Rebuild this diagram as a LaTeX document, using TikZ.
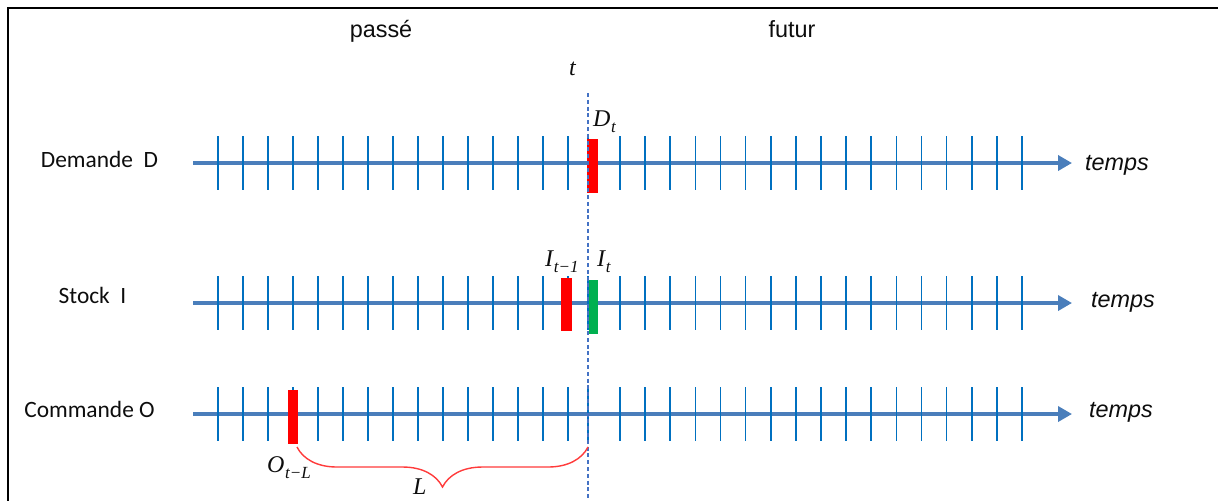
\documentclass[tikz,border=0pt]{standalone}
\usepackage{fontspec}
\setmainfont{Liberation Sans}
\newfontfamily\rowfont{Carlito}
\newfontfamily\varfont{Liberation Serif}
\usetikzlibrary{arrows.meta,decorations.pathreplacing}
\definecolor{TimeAxis}{HTML}{4A7EBB}
\definecolor{TimeTick}{HTML}{0070C0}
\definecolor{TimeMark}{HTML}{FF0000}
\definecolor{TimeBrace}{HTML}{FF3B3B}
\definecolor{TimeStock}{HTML}{00B050}
\definecolor{TimeNow}{HTML}{4472C4}
\definecolor{TimeInk}{gray}{0.05}
\newcommand{\varsub}[2]{#1\kern0.4pt\raisebox{-0.55ex}{\fontsize{8.5}{9}\selectfont #2}}
\tikzset{
    chrono/diagram/.style={
        x=0.5pt, y=-0.5pt,
        font=\fontsize{11.7}{14}\selectfont,
        text=TimeInk,
        line cap=butt,
        every node/.style={inner sep=0pt, outer sep=0pt}
    },
    chrono/frame/.style={draw=black, line width=1pt},
    chrono/axis/.style={
        draw=TimeAxis, line width=2.2pt,
        -{Triangle[length=7pt, width=7.5pt]}
    },
    chrono/tick/.style={draw=TimeTick, line width=0.8pt},
    chrono/now/.style={
        draw=TimeNow, line width=0.55pt,
        dash pattern=on 2pt off 1.4pt
    },
    chrono/bar/.style={
        draw=none, minimum width=5.5pt, minimum height=27pt, inner sep=0pt
    },
    chrono/brace/.style={
        draw=TimeBrace, line width=0.7pt,
        decorate, decoration={brace, amplitude=20pt}
    },
    chrono/row/.style={font=\rowfont\fontsize{11.7}{14}\selectfont, anchor=base},
    chrono/time/.style={font=\fontsize{11.7}{14}\selectfont\itshape, anchor=base west},
    chrono/var/.style={font=\varfont\fontsize{12}{14}\selectfont\itshape, anchor=base west}
}

\begin{document}
\begin{tikzpicture}[chrono/diagram]
    \useasboundingbox (0,0) rectangle (1218,500);
    \clip (0,0) rectangle (1218,500);
    \draw[chrono/frame] (1230,8) -- (8,8) -- (8,510);
    \node[anchor=base] (Past) at (381,37) {passé};
    \node[anchor=base] (Future) at (792,37) {futur};
    \node[chrono/var] (Now) at (569,75) {t};
    \node[chrono/row] (Demand) at (99.5,167) {Demande\ \ D};
    \node[chrono/row] (Stock) at (92.5,303) {Stock\ \ I};
    \node[chrono/row] (Order) at (89.5,417) {Commande O};
    \coordinate (Dstart) at (193,163);
    \coordinate (Dend) at (1072,163);
    \coordinate (Sstart) at (193,303);
    \coordinate (Send) at (1072,303);
    \coordinate (Ostart) at (193,414);
    \coordinate (Oend) at (1072,414);
    \draw[chrono/axis] (Dstart) -- (Dend);
    \draw[chrono/axis] (Sstart) -- (Send);
    \draw[chrono/axis] (Ostart) -- (Oend);
    \foreach \y in {163,303,414} {
        \foreach \k in {0,...,14}
            \draw[chrono/tick] ({218+25*\k},{\y-27}) -- ({218+25*\k},{\y+27});
        \draw[chrono/tick] (588,{\y-27}) -- (588,{\y+27});
        \foreach \k in {0,...,16}
            \draw[chrono/tick] ({620+25.125*\k},{\y-27}) -- ({620+25.125*\k},{\y+27});
    }
    \node[chrono/time] (DemandTime) at (1085,170) {temps};
    \node[chrono/time] (StockTime) at (1091,307) {temps};
    \node[chrono/time] (OrderTime) at (1089,417) {temps};
    \node[chrono/bar, fill=TimeMark] (Dbar) at (592.5,165.5) {};
    \node[chrono/bar, fill=TimeMark, minimum height=26.5pt] (Sprev) at (566.5,304.5) {};
    \node[chrono/bar, fill=TimeStock, minimum width=4.5pt] (Snow) at (593.5,306.5) {};
    \node[chrono/bar, fill=TimeMark, minimum width=5pt] (Obar) at (293,416.5) {};
    \node[chrono/var] (Dlabel) at (593,126) {\varsub{D}{t}};
    \node[chrono/var] (Sprevlabel) at (545,266) {\varsub{I}{t−1}};
    \node[chrono/var] (Snowlabel) at (597,266) {\varsub{I}{t}};
    \node[chrono/var] (Olabel) at (267,472) {\varsub{O}{t−L}};
    \coordinate (NowTop) at (588,93);
    \coordinate (NowBottom) at (588,505);
    \draw[chrono/now] (NowTop) -- (NowBottom);
    \coordinate (LeadEnd) at (588,447);
    \coordinate (LeadStart) at (297,447);
    \draw[chrono/brace] (LeadEnd) -- (LeadStart);
    \node[chrono/var] (Lead) at (413,494) {L};
\end{tikzpicture}
\end{document}
